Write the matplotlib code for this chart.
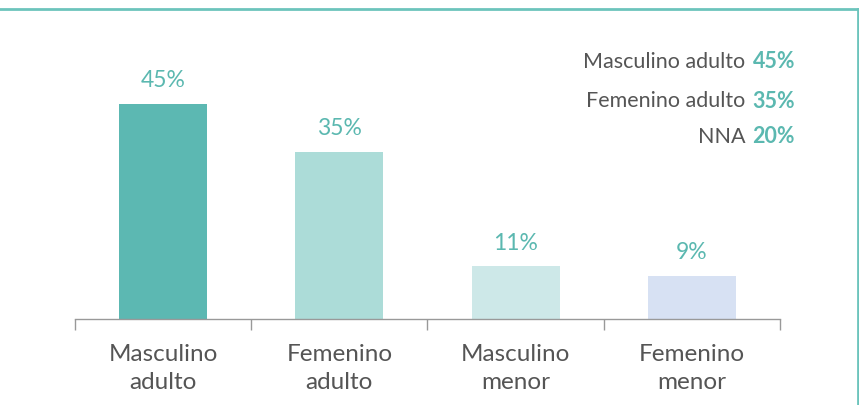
import matplotlib
matplotlib.use("Agg")
import matplotlib.pyplot as plt
from matplotlib.lines import Line2D

categories = ["Masculino\nadulto", "Femenino\nadulto", "Masculino\nmenor", "Femenino\nmenor"]
values = [45, 35, 11, 9]
value_labels = ["45%", "35%", "11%", "9%"]
colors = ["#5cb8b2", "#acdcd8", "#cde8e8", "#d7e1f3"]
legend_names = ["Masculino adulto", "Femenino adulto", "NNA"]
legend_values = ["45%", "35%", "20%"]

plt.rcParams['font.family'] = ['Lato', 'DejaVu Sans']
teal = "#5bb8b0"
gray = "#555555"

W, H = 859, 406
fig = plt.figure(figsize=(W/100, H/100), dpi=100)
ax = fig.add_axes([75/W, 86/H, (780-75)/W, (320-40)/H])

x = range(len(categories))
ax.bar(x, values, width=0.5, color=colors)
for xi, v, lab in zip(x, values, value_labels):
    ax.annotate(lab, (xi, v), xytext=(0, 10), textcoords="offset points",
                ha="center", va="bottom", color=teal, fontsize=16.5)

ax.set_xlim(-0.5, 3.5)
ax.set_ylim(0, 58.6)
ax.set_xticks([-0.5, 0.5, 1.5, 2.5, 3.5])
ax.set_xticklabels([])
ax.set_xticks(list(x), minor=True)
ax.set_xticklabels(categories, minor=True, fontsize=17.5, color=gray, linespacing=1.45)
ax.tick_params(axis="x", which="major", length=8, color="#999999", width=1, direction="out")
ax.tick_params(axis="x", which="minor", length=0, pad=17)
ax.set_yticks([])
for s in ["top", "right", "left"]:
    ax.spines[s].set_visible(False)
ax.spines["bottom"].set_color("#999999")
ax.spines["bottom"].set_linewidth(1)

# legend text (right-aligned)
ys = [62, 101, 137]
for name, val, yy in zip(legend_names, legend_values, ys):
    t = fig.text(795/W, 1 - yy/H, val, ha="right", va="center", color=teal,
                 fontsize=15.5, fontweight="bold")
    fig.canvas.draw()
    bb = t.get_window_extent()
    fig.text((bb.x0 - 7)/W, 1 - yy/H, name, ha="right", va="center", color=gray, fontsize=15.5)

# frame lines
fig.add_artist(Line2D([0, 857.5/W], [1 - 10/H, 1 - 10/H], transform=fig.transFigure, color="#6cc4bc", lw=2))
fig.add_artist(Line2D([857.5/W, 857.5/W], [0, 1 - 10/H], transform=fig.transFigure, color="#6cc4bc", lw=2))

fig.savefig("out.png", dpi=100)
